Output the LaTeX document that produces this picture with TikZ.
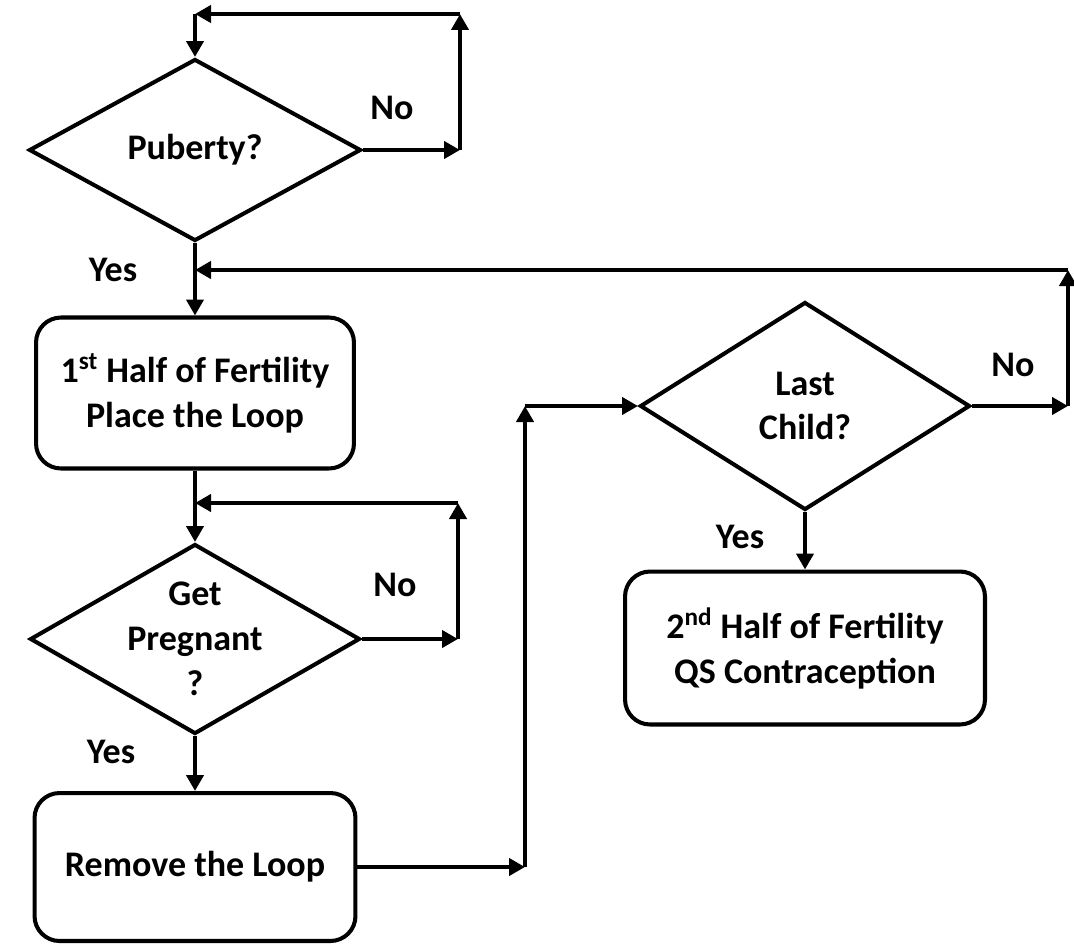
\documentclass[tikz,border=0pt]{standalone}
\usepackage{fontspec}
\setmainfont{Carlito}
\usetikzlibrary{shapes.geometric,arrows.meta}

\begin{document}
\begin{tikzpicture}
[x=0.02cm,y=-0.02cm,font=\bfseries\fontsize{20.5}{25.5}\selectfont,
      line width=2.3pt,
      every label/.style={align=center},
      decision/.style={diamond,draw,inner sep=0pt},
      stage/.style={draw,rounded corners=0.5cm,align=center,inner sep=0pt},
      flow/.style={-{Triangle[length=0.32cm,width=0.34cm]}}]
 \useasboundingbox (0,0) rectangle (1074,943);
 % left column
 \node[decision,minimum width=6.64cm,minimum height=3.64cm,label=center:Puberty?] (puberty) at (195,150) {};
 \node[stage,minimum width=6.36cm,minimum height=3.02cm] (half1) at (195,393) {1\textsuperscript{st} Half of Fertility\\Place the Loop};
 \node[decision,minimum width=6.6cm,minimum height=3.8cm,label=center:{Get\\Pregnant\\?}] (pregnant) at (195,639) {};
 \node[stage,minimum width=6.42cm,minimum height=2.96cm] (remove) at (195,867) {Remove the Loop};
 % right column
 \node[decision,minimum width=6.6cm,minimum height=4.16cm,label=center:{Last\\Child?}] (child) at (805,406) {};
 \node[stage,minimum width=7.2cm,minimum height=3.06cm] (half2) at (805,648) {2\textsuperscript{nd} Half of Fertility\\QS Contraception};
 % labels
 \node (no1) at (392,108) {No};
 \node (no2) at (395,585) {No};
 \node (no3) at (1013,365) {No};
 \node (yes1) at (113,270) {Yes};
 \node (yes2) at (111,752) {Yes};
 \node (yes3) at (740,537) {Yes};
 % bends
 \coordinate (pubR) at (460,150);
 \coordinate (pubT) at (460,14);
 \coordinate (pubL) at (195,14);
 \coordinate (pregR) at (458,639);
 \coordinate (pregT) at (458,503);
 \coordinate (pregL) at (195,503);
 \coordinate (remR) at (525,867);
 \coordinate (remT) at (525,406);
 \coordinate (childR) at (1068,406);
 \coordinate (childT) at (1068,270);
 \coordinate (childL) at (195,270);
 % connectors
 \draw[flow] (puberty.east) -- (pubR);
 \draw[flow] (pubR) -- (pubT);
 \draw[flow] (pubT) -- (pubL);
 \draw[flow] (pubL) -- (puberty.north);
 \draw[flow] (puberty.south) -- (half1.north);
 \draw[flow] (half1.south) -- (pregnant.north);
 \draw[flow] (pregnant.east) -- (pregR);
 \draw[flow] (pregR) -- (pregT);
 \draw[flow] (pregT) -- (pregL);
 \draw[flow] (pregnant.south) -- (remove.north);
 \draw[flow] (remove.east) -- (remR);
 \draw[flow] (remR) -- (remT);
 \draw[flow] (remT) -- (child.west);
 \draw[flow] (child.east) -- (childR);
 \draw[flow] (childR) -- (childT);
 \draw[flow] (childT) -- (childL);
 \draw[flow] (child.south) -- (half2.north);
\end{tikzpicture}
\end{document}
